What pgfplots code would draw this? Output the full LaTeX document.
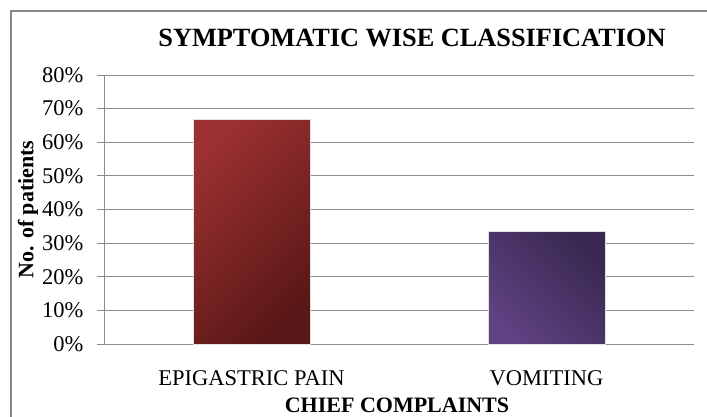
\documentclass[border=0pt]{standalone}
\usepackage{pgfplots}
\pgfplotsset{compat=1.18}
\usepackage{fontspec}
\setmainfont{Liberation Serif}
\definecolor{gridgray}{HTML}{8C8C8C}
\definecolor{framegray}{HTML}{878787}
\definecolor{redlight}{HTML}{9A3030}
\definecolor{reddark}{HTML}{5A1717}
\definecolor{purplelight}{HTML}{5F4282}
\definecolor{purpledark}{HTML}{392850}
\begin{document}
\begin{tikzpicture}[x=1pt,y=1pt]
\useasboundingbox (0,0) rectangle (707,416);
\draw[line width=1.5pt, color=framegray] (11,-5) -- (11,405) -- (712,405);
\begin{axis}[
  at={(104pt,72pt)}, anchor=south west,
  scale only axis, width=590pt, height=269pt,
  xmin=-0.5, xmax=1.5, ymin=0, ymax=80,
  axis x line*=bottom, axis y line*=left,
  axis line style={color=gridgray, line width=1pt},
  every tick/.style={color=gridgray, line width=1pt},
  tick align=outside,
  major tick length=7pt,
  ytick={0,10,...,80},
  yticklabel={\pgfmathprintnumber{\tick}\%},
  /pgf/number format/assume math mode=true,
  ymajorgrids, grid style={color=gridgray, line width=1pt},
  xtick={0,1}, xticklabels={EPIGASTRIC PAIN, VOMITING},
  x tick style={draw=none},
  extra x ticks={-0.5,0.5,1.5}, extra x tick labels={},
  extra x tick style={grid=none, tick style={color=gridgray, line width=1pt, draw=gridgray}},
  ticklabel style={font=\fontsize{22.5}{26}\selectfont},
  yticklabel style={xshift=-10pt},
  xticklabel style={yshift=-16pt},
  title={SYMPTOMATIC WISE CLASSIFICATION},
  title style={font=\bfseries\fontsize{26.3}{30}\selectfont, at={(axis description cs:0.5,1)}, anchor=center, yshift=31pt, xshift=13pt},
  ylabel={No. of patients},
  ylabel style={font=\bfseries\fontsize{22}{26}\selectfont, at={(axis description cs:0,0.5)}, anchor=center, yshift=76pt},
  xlabel={CHIEF COMPLAINTS},
  xlabel style={font=\bfseries\fontsize{22}{26}\selectfont, at={(axis description cs:0.5,0)}, anchor=center, yshift=-61pt, xshift=-2pt},
  clip=false,
]
\addplot[ybar, bar width=117pt, bar shift=0pt, draw=black!12, line width=1pt,
  top color=redlight, bottom color=reddark, shading angle=45]
  coordinates {(0,66.67)};
\addplot[ybar, bar width=117pt, bar shift=0pt, draw=black!12, line width=1pt,
  top color=purpledark, bottom color=purplelight, shading angle=-45]
  coordinates {(1,33.33)};
\end{axis}
\end{tikzpicture}
\end{document}
